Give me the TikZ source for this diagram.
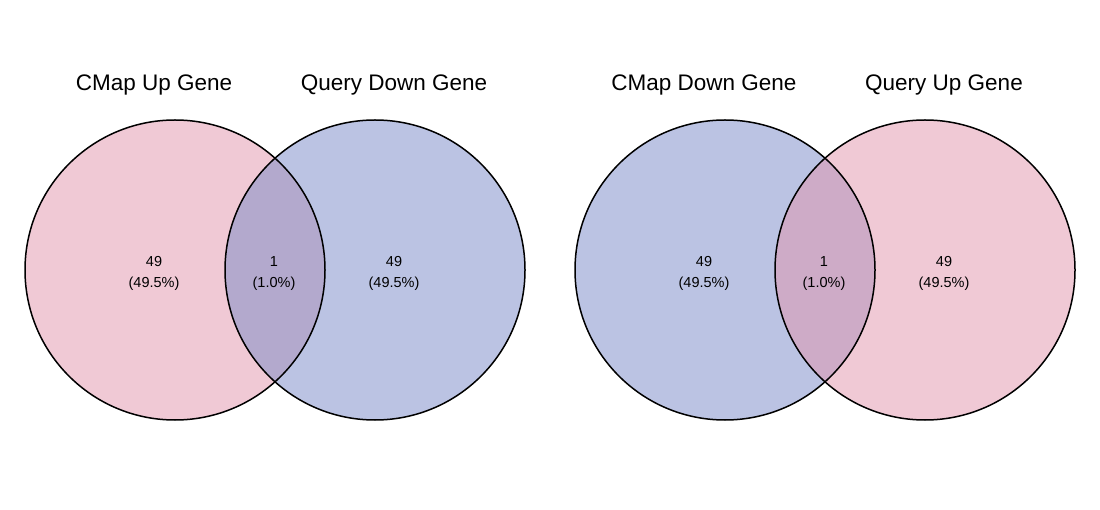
\documentclass[tikz,border=0pt]{standalone}
\usepackage{fontspec}
\setmainfont{Liberation Sans}
\definecolor{pinkf}{HTML}{F0C9D5}
\definecolor{bluef}{HTML}{BBC3E3}
\definecolor{ovl}{HTML}{B3A9CD}
\definecolor{ovr}{HTML}{CEABC7}
\tikzset{
  setlabel/.style={font=\fontsize{22.5}{26}\selectfont, anchor=center},
  count/.style={font=\fontsize{14.5}{21}\selectfont, align=center, anchor=north},
  ring/.style={draw=black, line width=1.5pt},
}
\begin{document}
\begin{tikzpicture}[x=1pt,y=-1pt]
\useasboundingbox (0,0) rectangle (1100,510);
% left diagram
\fill[pinkf] (175,270) circle (150);
\fill[bluef] (375,270) circle (150);
\begin{scope}
\clip (175,270) circle (150);
\fill[ovl] (375,270) circle (150);
\end{scope}
\node[ring, circle, minimum size=300pt, inner sep=0pt] (c1) at (175,270) {};
\node[ring, circle, minimum size=300pt, inner sep=0pt] (c2) at (375,270) {};
% right diagram
\fill[bluef] (725,270) circle (150);
\fill[pinkf] (925,270) circle (150);
\begin{scope}
\clip (725,270) circle (150);
\fill[ovr] (925,270) circle (150);
\end{scope}
\node[ring, circle, minimum size=300pt, inner sep=0pt] (c3) at (725,270) {};
\node[ring, circle, minimum size=300pt, inner sep=0pt] (c4) at (925,270) {};
% titles
\node[setlabel] (t1) at (154,85) {CMap Up Gene};
\node[setlabel] (t2) at (394,85) {Query Down Gene};
\node[setlabel] (t3) at (704,85) {CMap Down Gene};
\node[setlabel] (t4) at (944,85) {Query Up Gene};
% counts
\node[count] (n1) at (154,252.5) {49\\(49.5\%)};
\node[count] (n2) at (274,252.5) {1\\(1.0\%)};
\node[count] (n3) at (394,252.5) {49\\(49.5\%)};
\node[count] (n4) at (704,252.5) {49\\(49.5\%)};
\node[count] (n5) at (824,252.5) {1\\(1.0\%)};
\node[count] (n6) at (944,252.5) {49\\(49.5\%)};
\end{tikzpicture}
\end{document}
